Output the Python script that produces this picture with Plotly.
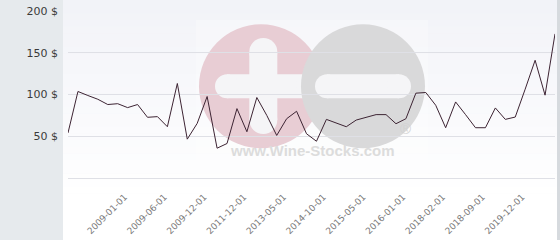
import plotly.graph_objects as go

# ---- data ----
prices = [54, 103.6, 98.8, 94.3, 88, 89, 84.3, 88, 72.7, 73.5,
          61.4, 113.2, 46.5, 65.4, 97.6, 35.7, 41.3, 83.1, 55.4, 96.4,
          75, 51, 71, 79.9, 53, 44, 70.2, 65.8, 61.4, 69.4,
          72.3, 75.9, 75.9, 65, 71, 101.6, 102.4, 87.1, 60.2, 91.1,
          75.9, 60.2, 60.2, 83.9, 70.2, 73, 106.4, 141, 99.2, 172.6]
point_index = list(range(len(prices)))
tick_labels = ["2009-01-01", "2009-06-01", "2009-12-01", "2011-12-01", "2013-05-01",
               "2014-10-01", "2015-05-01", "2016-01-01", "2018-02-01", "2018-09-01",
               "2019-12-01"]
tick_index = [5, 9, 13, 17, 21, 25, 29, 33, 37, 41, 45]
y_ticks = [0, 50, 100, 150, 200]
y_tick_text = ["", "50 $", "100 $", "150 $", "200 $"]

W, H = 560, 240
L, R, T, B = 68, 555, 11, 178  # plot area in px


def px_x(px):
    return (px - L) / (R - L)


def px_y(py):
    return (B - py) / (B - T)


shapes = []
# background gradient panel
n = 30
top_c = (242, 243, 248)
bot_c = (255, 255, 255)
for i in range(n):
    y0 = i * 200 / n
    y1 = (i + 1) * 200 / n + 0.5
    f = i / (n - 1)
    c = tuple(round(top_c[j] + (bot_c[j] - top_c[j]) * f) for j in range(3))
    shapes.append(dict(type="rect", xref="paper", yref="paper", layer="below",
                       x0=px_x(63), x1=px_x(557), y0=px_y(y1), y1=px_y(y0),
                       fillcolor="rgb(%d,%d,%d)" % c, line=dict(width=0)))
shapes.append(dict(type="rect", xref="paper", yref="paper", layer="below",
                   x0=px_x(63), x1=px_x(557), y0=px_y(240), y1=px_y(200),
                   fillcolor="#ffffff", line=dict(width=0)))
# right strip
shapes.append(dict(type="rect", xref="paper", yref="paper", layer="below",
                   x0=px_x(557), x1=px_x(561), y0=px_y(241), y1=px_y(-1),
                   fillcolor="#d6dade", line=dict(width=0)))
# watermark box
shapes.append(dict(type="rect", xref="paper", yref="paper", layer="below",
                   x0=px_x(196), x1=px_x(428), y0=px_y(174), y1=px_y(20),
                   fillcolor="rgba(255,255,255,0.25)", line=dict(width=0)))


def circle(cx, cy, r, color):
    shapes.append(dict(type="circle", xref="paper", yref="paper", layer="below",
                       x0=px_x(cx - r), x1=px_x(cx + r), y0=px_y(cy + r), y1=px_y(cy - r),
                       fillcolor=color, line=dict(width=0)))


def rbar_h(x0, x1, cy, h, color):
    r = h / 2
    shapes.append(dict(type="rect", xref="paper", yref="paper", layer="below",
                       x0=px_x(x0 + r), x1=px_x(x1 - r), y0=px_y(cy + r), y1=px_y(cy - r),
                       fillcolor=color, line=dict(width=0)))
    circle(x0 + r, cy, r, color)
    circle(x1 - r, cy, r, color)


def rbar_v(cx, y0, y1, w, color):
    r = w / 2
    shapes.append(dict(type="rect", xref="paper", yref="paper", layer="below",
                       x0=px_x(cx - r), x1=px_x(cx + r), y0=px_y(y1 - r), y1=px_y(y0 + r),
                       fillcolor=color, line=dict(width=0)))
    circle(cx, y0 + r, r, color)
    circle(cx, y1 - r, r, color)


pink = "#e8cdd4"
grey = "#d9d9da"
light = "#f5f5f7"
circle(261, 86.3, 62, pink)
rbar_v(263.3, 38, 134, 28, light)
rbar_h(215, 320, 86.3, 24, light)
circle(363, 86.3, 62, grey)
rbar_h(315, 411, 86.3, 24, light)

annotations = [
    dict(text="<b>www.Wine-Stocks.com</b>", xref="paper", yref="paper",
         x=px_x(312), y=px_y(161), showarrow=False,
         font=dict(family="Liberation Sans", size=15, color="#dcdcdc")),
    dict(text="®", xref="paper", yref="paper", x=px_x(413), y=px_y(139), showarrow=False,
         font=dict(family="Liberation Sans", size=15, color="#d2d2d2")),
]

fig = go.Figure()
fig.add_trace(go.Scatter(x=point_index, y=prices, mode="lines",
                         line=dict(color="#3d2433", width=1), hoverinfo="skip"))

fig.update_layout(
    width=W, height=H,
    margin=dict(l=L, r=W - R, t=T, b=H - B),
    paper_bgcolor="#e6eaed",
    plot_bgcolor="rgba(0,0,0,0)",
    showlegend=False,
    shapes=shapes,
    annotations=annotations,
    xaxis=dict(range=[0, len(prices) - 1], tickvals=tick_index, ticktext=tick_labels,
               tickangle=-45, showgrid=False, zeroline=False, showline=False,
               ticks="", tickfont=dict(family="DejaVu Sans", size=9, color="#7a7a7a"),
               ticklabelstandoff=11, ticklabelshift=7),
    yaxis=dict(range=[0, 200], tickvals=y_ticks, ticktext=y_tick_text,
               showgrid=True, gridcolor="#dfe0e6", gridwidth=1,
               zeroline=True, zerolinecolor="#dfe0e6", zerolinewidth=1,
               showline=False, ticks="",
               tickfont=dict(family="DejaVu Sans", size=11, color="#3a3a3a"),
               ticklabelstandoff=9),
)

fig.write_html("out.html")
